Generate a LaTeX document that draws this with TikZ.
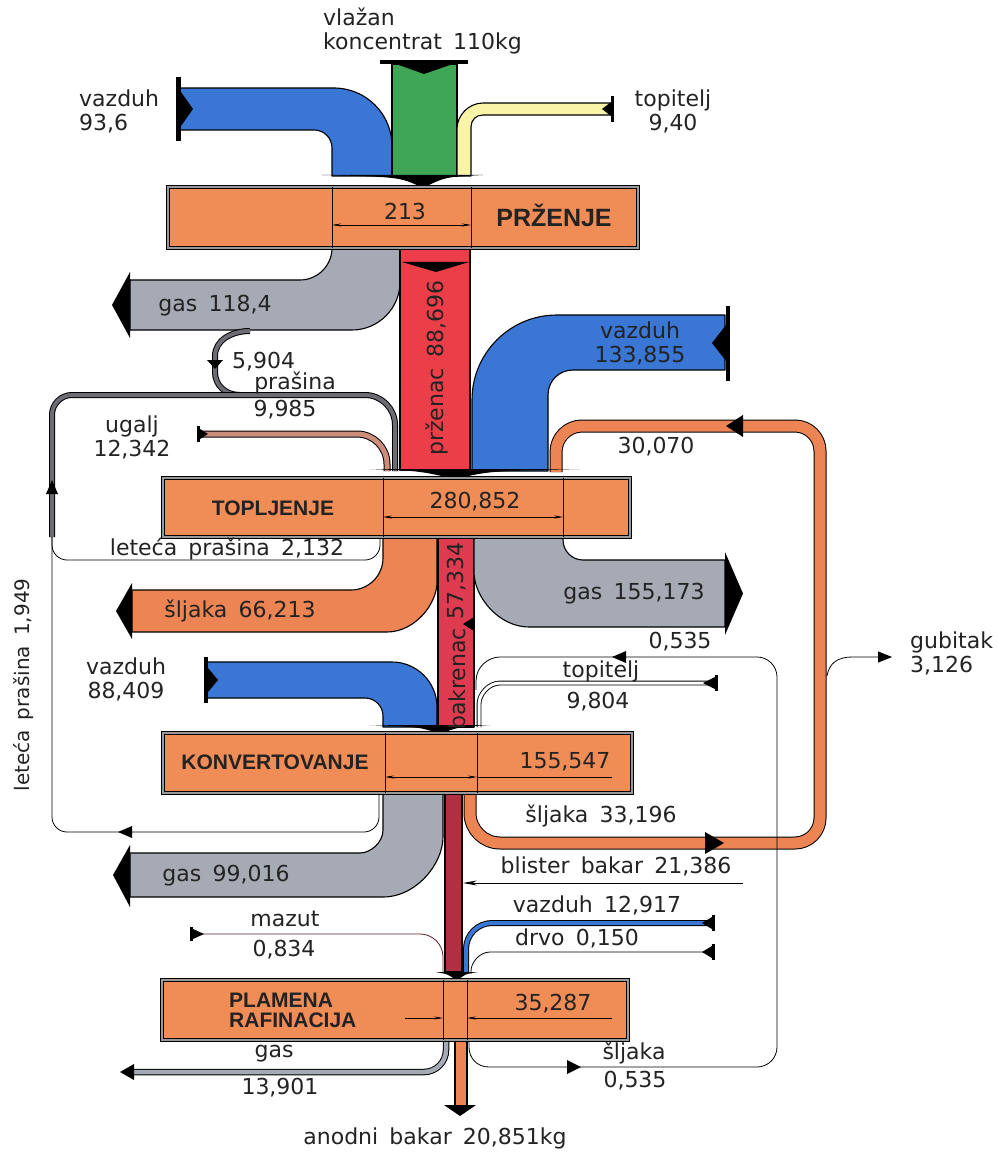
\documentclass[tikz,border=0pt]{standalone}
\usepackage{fontspec}
\setmainfont{DejaVu Sans}[WordSpace=1.6]
\newfontfamily\boxfont{Liberation Sans}
\usetikzlibrary{arrows.meta}
\definecolor{cBox}{RGB}{240,140,86}
\definecolor{cSlag}{RGB}{236,132,84}
\definecolor{cGreen}{RGB}{62,166,84}
\definecolor{cBlue}{RGB}{58,118,212}
\definecolor{cYellow}{RGB}{250,244,168}
\definecolor{cGas}{RGB}{166,170,180}
\definecolor{cRed}{RGB}{236,62,72}
\definecolor{cCopper}{RGB}{222,58,80}
\definecolor{cBlister}{RGB}{176,48,66}
\definecolor{cCoal}{RGB}{204,142,122}
\definecolor{cDust}{RGB}{108,108,114}
\definecolor{cInk}{RGB}{35,35,35}
\tikzset{
    band/.style={draw=black, line width=1.1pt, line join=round},
    rope/.style={draw=black, line width=1pt, double=#1, double distance=4.5pt},
    wire/.style={draw=black, line width=0.8pt},
    tip/.style={fill=black},
    procbox/.style={rectangle, draw=black, line width=1pt, double=black!40, double distance=2pt, fill=cBox, inner sep=0pt},
    divline/.style={line width=0.9pt},
    dim/.style={line width=0.6pt, {Stealth[length=9pt,width=3pt]}-{Stealth[length=9pt,width=3pt]}},
    diml/.style={line width=0.6pt, -{Stealth[length=9pt,width=3pt]}},
    lbl/.style={font=\fontsize{22}{24}\selectfont, text=cInk, inner sep=0pt, align=center},
    ttl/.style={font=\boxfont\bfseries\fontsize{21}{20}\selectfont, text=cInk, inner sep=0pt},
}

\begin{document}
\begin{tikzpicture}[x=1pt, y=-1pt]
    \useasboundingbox (0,0) rectangle (997,1155);

    % --- inputs to roasting
    \draw[band, fill=cBlue] (180,88) -- (334,88) .. controls (366,88) and (392,114) .. (392,146) -- (392,176)
        -- (332,176) -- (332,148) .. controls (332,138) and (324,130) .. (314,130) -- (180,130) -- cycle;
    \draw[band, fill=cGreen] (392,64) rectangle (457,176);
    \draw[band, fill=cYellow] (610,103) -- (483,103) .. controls (469,103) and (457,115) .. (457,129) -- (457,176)
        -- (471,176) -- (471,127) .. controls (471,120) and (476,115) .. (483,115) -- (610,115) -- cycle;
    \fill[tip] (176,77) rectangle (181,141);
    \fill[tip] (181,92) -- (193,109) -- (181,126) -- cycle;
    \fill[tip] (380,60) rectangle (468,64);
    \fill[tip] (396,64) -- (453,64) -- (424,74) -- cycle;
    \fill[tip] (611,96) rectangle (614,122);
    \fill[tip] (611,102) -- (602,109) -- (611,116) -- cycle;
    \fill[tip] (322,175) -- (483,175) .. controls (445,177) .. (423,188) .. controls (400,177) .. (322,175) -- cycle;

    % --- roasting outputs
    \draw[band, fill=cGas] (332,248) .. controls (332,265.6) and (317.6,280) .. (300,280) -- (130,280) -- (130,330)
        -- (352,330) .. controls (378.4,330) and (400,308.4) .. (400,282) -- (400,248) -- cycle;
    \fill[tip] (130,272) -- (112,305) -- (130,338) -- cycle;
    \draw[band, fill=cRed] (400,248) rectangle (470,470);
    \fill[tip] (402,262) -- (469,262) -- (436,272) -- cycle;
    \draw[rope=cDust, double distance=4pt] (250,331) .. controls (232,331) and (215,340) .. (215,356) -- (215,372)
        .. controls (215,385) and (225,395) .. (240,395);
    \fill[tip] (207,360) -- (223,360) -- (215,369) -- cycle;

    % --- inputs to smelting
    \draw[rope=cDust, double distance=4pt] (52,537) -- (52,415) .. controls (52,404) and (61,395) .. (72,395) -- (365,395)
        .. controls (381.5,395) and (395,408.5) .. (395,425) -- (395,471);
    \fill[tip] (46,494) -- (52,480) -- (58,494) -- cycle;
    \draw[rope=cCoal, double distance=5pt] (200,434) -- (357,434) .. controls (373.5,434) and (387,447.5) .. (387,464) -- (387,471);
    \fill[tip] (197,426) rectangle (200,442);
    \fill[tip] (200,429) -- (208,434) -- (200,439) -- cycle;
    \draw[band, fill=cBlue] (725,315) -- (557,315) .. controls (510,315) and (472,353) .. (472,400) -- (472,471)
        -- (548,471) -- (548,395) .. controls (548,381) and (559,370) .. (573,370) -- (725,370) -- cycle;
    \fill[tip] (726,306) rectangle (730,381);
    \fill[tip] (726,325) -- (712,343) -- (726,361) -- cycle;
    \draw[rope=cSlag, double distance=11pt] (470,793) -- (470,813) .. controls (470,829.5) and (483.5,843) .. (500,843)
        -- (795,843) .. controls (808.75,843) and (820,831.75) .. (820,818) -- (820,451)
        .. controls (820,437.25) and (808.75,426) .. (795,426) -- (582,426)
        .. controls (567.7,426) and (556,437.7) .. (556,452) -- (556,472);
    \fill[tip] (705,832) -- (724,843) -- (705,854) -- cycle;
    \fill[tip] (743,415) -- (726,426) -- (743,437) -- cycle;
    \draw[wire, -{Triangle[length=14pt,width=11pt]}] (827,676) .. controls (829,663) and (838,657) .. (852,657) -- (892,657);
    \fill[tip] (370,469) -- (580,469) .. controls (490,471) .. (455,479) .. controls (420,471) .. (370,469) -- cycle;

    % --- smelting outputs
    \draw[wire] (380,537) -- (380,545) .. controls (380,553.25) and (373.25,560) .. (365,560) -- (67,560)
        .. controls (58.75,560) and (52,553.25) .. (52,545) -- (52,537);
    \draw[wire] (379,793) -- (379,817) .. controls (379,825.25) and (372.25,832) .. (364,832) -- (67,832)
        .. controls (58.75,832) and (52,825.25) .. (52,817) -- (52,537);
    \fill[tip] (132,826) -- (118,832) -- (132,838) -- cycle;
    \draw[band, fill=cSlag] (383,537) -- (383,558) .. controls (383,575.6) and (368.6,590) .. (351,590) -- (132,590)
        -- (132,632) -- (387,632) .. controls (414.5,632) and (437,604.5) .. (437,582) -- (437,537) -- cycle;
    \fill[tip] (132,583) -- (116,611) -- (132,639) -- cycle;
    \draw[band, fill=cCopper] (438,537) rectangle (474,727);
    \fill[tip] (474,617) -- (463,624) -- (474,631) -- cycle;
    \draw[band, fill=cGas] (563,537) -- (563,540) .. controls (563,551) and (572,560) .. (583,560) -- (725,560)
        -- (725,627) -- (529,627) .. controls (498.75,627) and (474,596.75) .. (474,572) -- (474,537) -- cycle;
    \fill[tip] (725,552) -- (743,593.5) -- (725,635) -- cycle;

    % --- inputs to converting
    \draw[wire] (469,1040) -- (469,1047) .. controls (469,1058) and (477,1067) .. (489,1067) -- (757,1067)
        .. controls (768,1067) and (777,1058) .. (777,1047) -- (777,677)
        .. controls (777,666) and (768,657) .. (757,657) -- (500,657)
        .. controls (488,657) and (476,667) .. (476,681) -- (476,690);
    \fill[tip] (626,651) -- (612,657) -- (626,663) -- cycle;
    \fill[tip] (567,1060) -- (581,1067) -- (567,1074) -- cycle;
    \draw[rope=white, line width=0.9pt, double distance=3pt] (717,683) -- (500,683) .. controls (488.45,683) and (479,694.45) .. (479,704) -- (479,727);
    \fill[tip] (715,675) rectangle (718,691);
    \fill[tip] (715,677) -- (703,683) -- (715,689) -- cycle;
    \draw[band, fill=cBlue] (207,662) -- (392,662) .. controls (416.75,662) and (437,682.25) .. (437,707) -- (437,727)
        -- (383,727) -- (383,716) .. controls (383,706.1) and (374.9,698) .. (365,698) -- (207,698) -- cycle;
    \fill[tip] (204,657) rectangle (208,703);
    \fill[tip] (208,668) -- (218,680) -- (208,692) -- cycle;
    \fill[tip] (370,725) -- (490,725) .. controls (458,727) .. (440,734) .. controls (420,727) .. (370,725) -- cycle;

    % --- converting outputs
    \draw[band, fill=cGas] (383,793) -- (383,830) .. controls (383,842.65) and (370.35,853) .. (360,853) -- (130,853)
        -- (130,897) -- (383,897) .. controls (416,897) and (443,864) .. (443,837) -- (443,793) -- cycle;
    \fill[tip] (130,845) -- (113,875) -- (130,907) -- cycle;
    \draw[band, fill=cBlister] (445,793) rectangle (462,972);
    \draw[wire, -{Stealth[length=14pt,width=5pt]}] (743,883) -- (463,883);

    % --- inputs to fire refining
    \draw[rope=cBlue, double distance=4pt] (713,923) -- (492,923) .. controls (477.7,923) and (466,934.7) .. (466,949) -- (466,972);
    \fill[tip] (712,915) rectangle (715,931);
    \fill[tip] (712,917) -- (702,923) -- (712,929) -- cycle;
    \draw[wire] (713,952) -- (490,952) .. controls (479.55,952) and (471,962.45) .. (471,971) -- (471,974);
    \fill[tip] (712,944) rectangle (715,960);
    \fill[tip] (712,946) -- (702,952) -- (712,958) -- cycle;
    \draw[wire, draw=cBlister!55!black] (192,934) -- (420,934) .. controls (432.65,934) and (443,944.35) .. (443,957) -- (443,973);
    \fill[tip] (190,927) rectangle (193,941);
    \fill[tip] (193,929) -- (204,934) -- (193,939) -- cycle;
    \fill[tip] (435,972) -- (478,972) .. controls (465,974) .. (457,981) .. controls (448,974) .. (435,972) -- cycle;

    % --- fire refining outputs
    \draw[rope=cGas, double distance=4.5pt] (446,1040) -- (446,1050) .. controls (446,1062.1) and (436.1,1072) .. (424,1072) -- (132,1072);
    \fill[tip] (134,1064) -- (120,1072) -- (134,1080) -- cycle;
    \draw[band, fill=cSlag] (455,1040) rectangle (467,1106);
    \fill[tip] (444,1105) -- (476,1105) -- (460,1116) -- cycle;

    % --- process boxes
    \node[procbox, minimum width=470pt, minimum height=61pt] (przenje) at (403,217.5) {};
    \node[procbox, minimum width=467pt, minimum height=59pt] (topljenje) at (396.5,507.5) {};
    \node[procbox, minimum width=469pt, minimum height=60pt] (konvert) at (397.5,763) {};
    \node[procbox, minimum width=466pt, minimum height=60pt] (rafin) at (395,1010) {};
    \draw[divline] (332,187) -- (332,248) (471,187) -- (471,248);
    \draw[divline] (383,478) -- (383,537) (563,478) -- (563,537);
    \draw[divline] (385,733) -- (385,793) (477,733) -- (477,793);
    \draw[divline] (443,980) -- (443,1040) (467,980) -- (467,1040);
    \draw[dim] (332,225) -- (471,225);
    \draw[dim] (383,517) -- (563,517);
    \draw[dim] (385,777) -- (477,777);
    \draw[line width=0.6pt] (477,777) -- (612,777);
    \draw[diml] (405,1018) -- (443,1018);
    \draw[diml] (612,1018) -- (467,1018);

    % --- labels
    \node[lbl, anchor=west, align=left] (konc) at (323,31) {vlažan\\koncentrat 110kg};
    \node[lbl, anchor=west, align=left] (air1) at (79,111) {vazduh\\93,6};
    \node[lbl] (fuel1) at (673,111) {topitelj\\9,40};
    \node[lbl] (v213) at (405,211) {213};
    \node[ttl, font=\boxfont\bfseries\fontsize{25}{25}\selectfont] (tprz) at (554,215) {PRŽENJE};
    \node[lbl] (gas1) at (215,306) {gas 118,4};
    \node[lbl, rotate=90] (przenac) at (437,368) {prženac 88,696};
    \node[lbl, anchor=west] (dust1) at (232,362) {5,904};
    \node[lbl] (dust2) at (295,383) {prašina};
    \node[lbl] (dust3) at (285,410) {9,985};
    \node[lbl] (coal) at (132,437) {ugalj\\12,342};
    \node[lbl] (air2) at (640,343) {vazduh\\133,855};
    \node[lbl] (ret1) at (656,447) {30,070};
    \node[ttl] (ttop) at (273,508) {TOPLJENJE};
    \node[lbl] (v280) at (475,502) {280,852};
    \node[lbl] (fly1) at (227,549) {leteća prašina 2,132};
    \node[lbl] (slag1) at (240,611) {šljaka 66,213};
    \node[lbl, rotate=90] (matte1) at (457,581) {57,334};
    \node[lbl, rotate=90] (matte2) at (457,679) {bakrenac};
    \node[lbl] (gas2) at (634,594) {gas 155,173};
    \node[lbl] (ret2) at (680,642) {0,535};
    \node[lbl, anchor=west, align=left] (loss) at (910,653) {gubitak\\3,126};
    \node[lbl] (fuel2) at (601,671) {topitelj};
    \node[lbl] (fuel2v) at (598,702) {9,804};
    \node[lbl] (air3) at (126,679) {vazduh\\88,409};
    \node[ttl] (tkon) at (275,762) {KONVERTOVANJE};
    \node[lbl] (v155) at (565,762) {155,547};
    \node[lbl, rotate=90, font=\fontsize{20}{22}\selectfont] (fly2) at (24,685) {leteća prašina 1,949};
    \node[lbl] (slag2) at (601,816) {šljaka 33,196};
    \node[lbl] (blister) at (616,866) {blister bakar 21,386};
    \node[lbl] (gas3) at (226,876) {gas 99,016};
    \node[lbl] (air4) at (597,905) {vazduh 12,917};
    \node[lbl] (oil) at (285,919) {mazut};
    \node[lbl] (oilv) at (284,950) {0,834};
    \node[lbl] (wood) at (577,938) {drvo 0,150};
    \node[ttl, anchor=west, align=left] (traf) at (229,1010) {PLAMENA\\RAFINACIJA};
    \node[lbl] (v35) at (553,1004) {35,287};
    \node[lbl] (gas4) at (274,1054) {gas};
    \node[lbl] (gas4v) at (280,1088) {13,901};
    \node[lbl] (slag3) at (634,1053) {šljaka};
    \node[lbl] (slag3v) at (635,1081) {0,535};
    \node[lbl] (anode) at (435,1138) {anodni bakar 20,851kg};
\end{tikzpicture}
\end{document}
